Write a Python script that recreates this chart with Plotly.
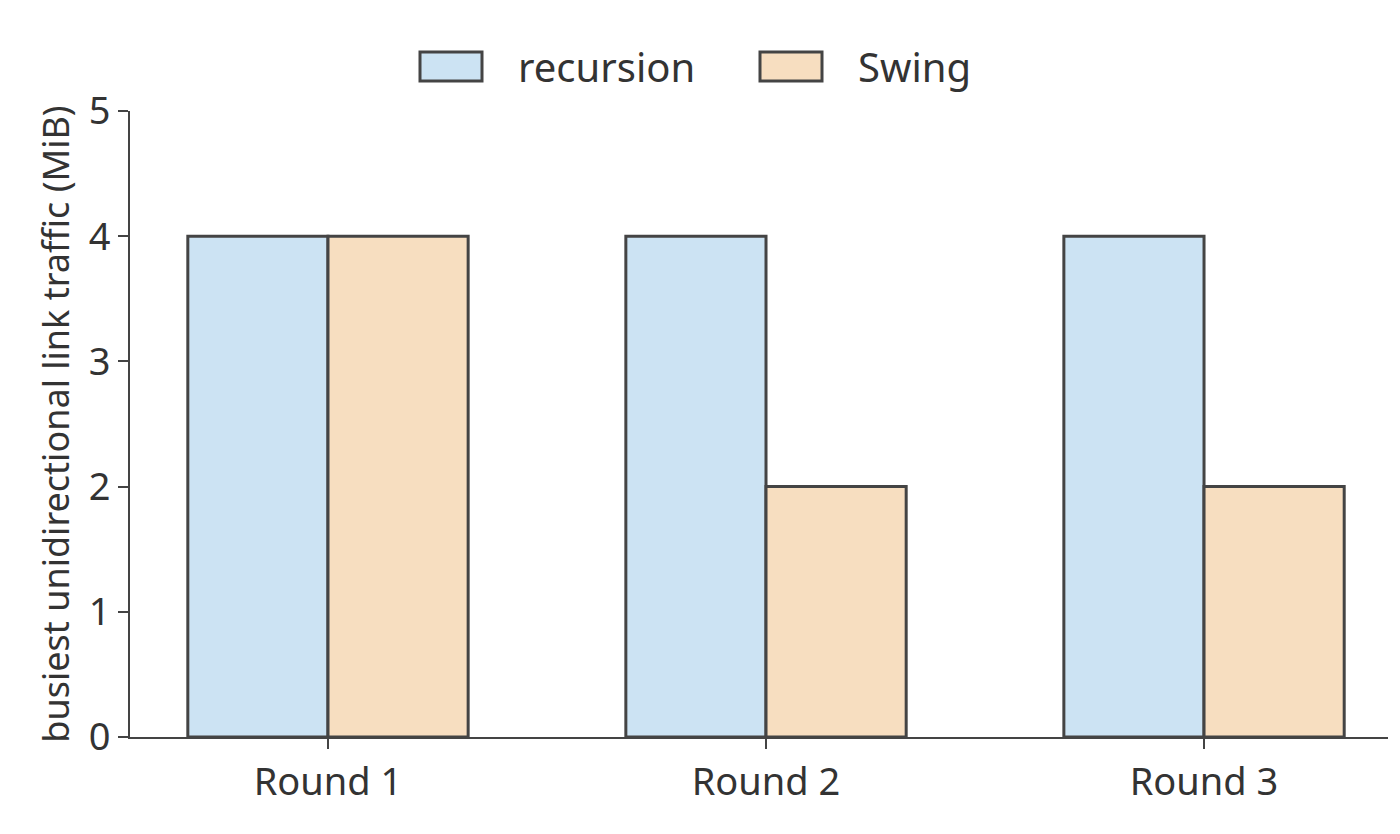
import plotly.graph_objects as go

categories = ["Round 1", "Round 2", "Round 3"]
recursion = [4, 4, 4]
swing = [4, 2, 2]
series_names = ["recursion", "Swing"]
colors = ["#cce3f3", "#f7dec0"]

fig = go.Figure()
for name, vals, c in zip(series_names, [recursion, swing], colors):
    fig.add_bar(name=name, x=categories, y=vals, showlegend=False,
                marker=dict(color=c, line=dict(color="#444444", width=3)))

# Custom legend with large rectangles (paper coordinates above the plot)
legend_x = [412, 752]
for name, c, lx in zip(series_names, colors, legend_x):
    fig.add_shape(type="rect", xref="paper", yref="paper",
                  x0=(lx - 122) / 1258, x1=(lx + 62 - 122) / 1258,
                  y0=(729 - 73) / 626, y1=(729 - 44) / 626,
                  fillcolor=c, line=dict(color="#444444", width=3))
    fig.add_annotation(xref="paper", yref="paper", x=(lx + 96 - 122) / 1258,
                       y=(729 - 58) / 626, text=name, showarrow=False,
                       xanchor="left", yanchor="middle", font=dict(size=40))

fig.update_layout(
    width=1400, height=834, barmode="group", bargap=0.36, bargroupgap=0,
    plot_bgcolor="white", paper_bgcolor="white",
    font=dict(family="Noto Sans", size=38, color="#333333"),
    margin=dict(l=122, r=20, t=103, b=105, autoexpand=False),
    xaxis=dict(range=[-0.452, 2.42], showline=True, linecolor="#444444", linewidth=2,
               ticks="outside", ticklen=10, tickwidth=2, tickcolor="#444444", showgrid=False,
               automargin=False),
    yaxis=dict(range=[0, 5], dtick=1, showline=True, linecolor="#444444", linewidth=2,
               ticks="outside", ticklen=10, tickwidth=2, tickcolor="#444444", showgrid=False,
               zeroline=False, automargin=False,
               title=dict(text="busiest unidirectional link traffic (MiB)", font=dict(size=36), standoff=8)),
)
fig.write_html("out.html")
